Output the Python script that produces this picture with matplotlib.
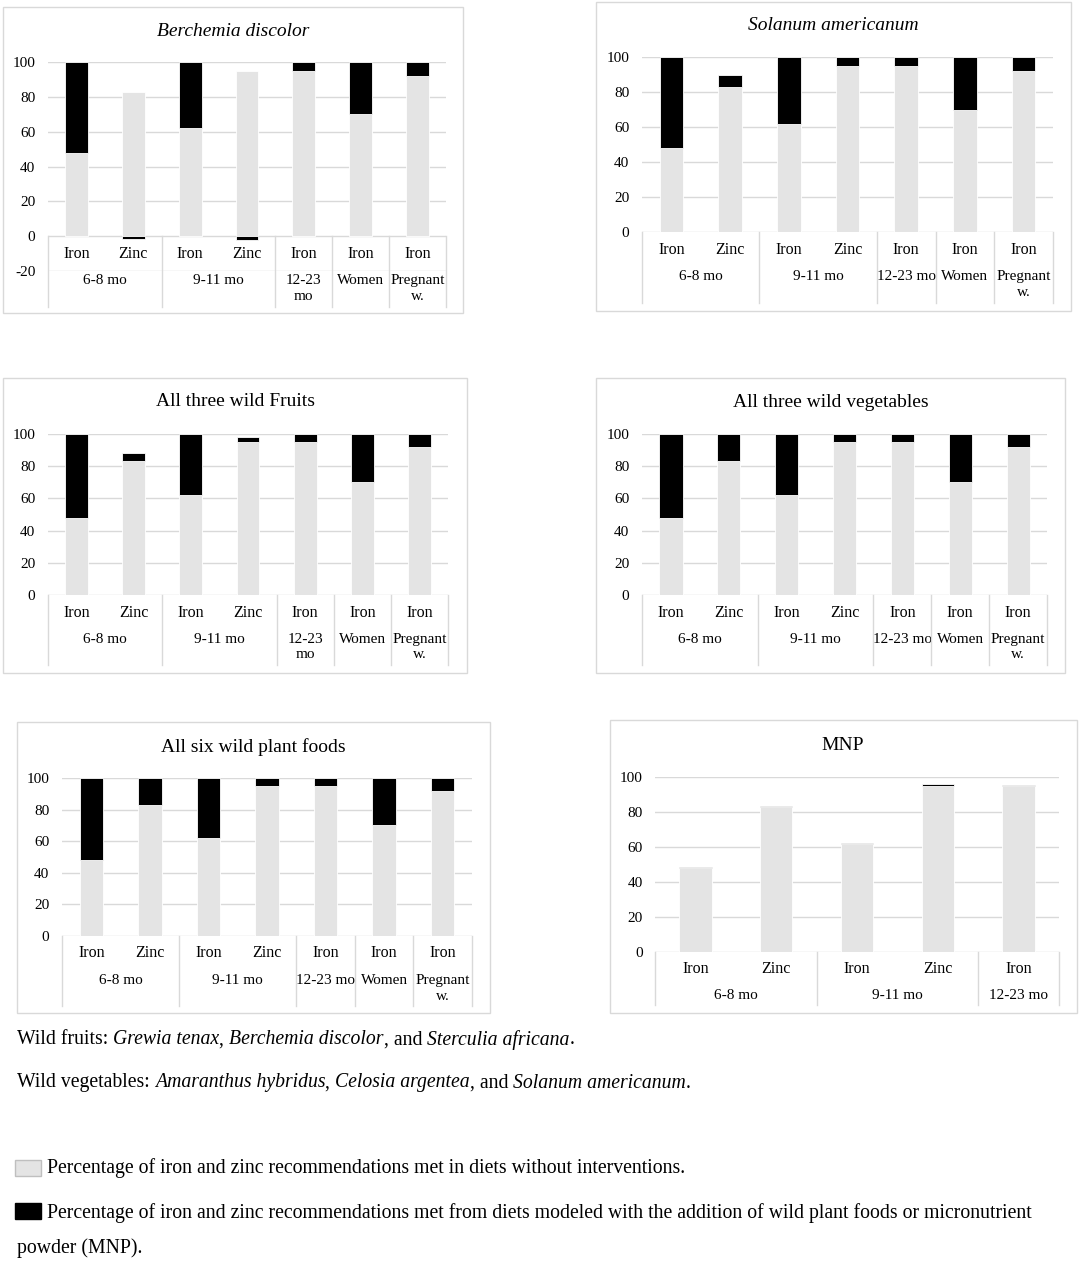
import matplotlib
matplotlib.use("Agg")
import matplotlib.pyplot as plt
from matplotlib.patches import Rectangle
from matplotlib.lines import Line2D
from matplotlib.transforms import blended_transform_factory
import numpy as np

plt.rcParams["font.family"] = ["Liberation Serif", "DejaVu Serif"]
plt.rcParams["axes.unicode_minus"] = False

# ---------------------------------------------------------------------------
# DATA (percent of recommendation met)
# ---------------------------------------------------------------------------
nutrients = ["Iron", "Zinc", "Iron", "Zinc", "Iron", "Iron", "Iron"]
age_groups = ["6-8 mo", "9-11 mo", "12-23 mo", "Women", "Pregnant w."]
group_sizes = [2, 2, 1, 1, 1]

baseline = [48, 83, 62, 95, 95, 70, 92]
berchemia_added = [52, -1.5, 38, -2, 5, 30, 8]
solanum_added = [52, 7, 38, 5, 5, 30, 8]
fruits_added = [52, 5.5, 38, 3, 5, 30, 8]
vegetables_added = [52, 17, 38, 5, 5, 30, 8]
six_added = [52, 17, 38, 5, 5, 30, 8]

mnp_nutrients = ["Iron", "Zinc", "Iron", "Zinc", "Iron"]
mnp_groups = ["6-8 mo", "9-11 mo", "12-23 mo"]
mnp_sizes = [2, 2, 1]
mnp_baseline = [48, 83, 62, 95, 95]
mnp_added = [0.4, 0.7, 0.4, 1.2, 0.4]

GREY = "#e4e4e4"
LINE = "#d9d9d9"

W, H = 1084, 1265
fig = plt.figure(figsize=(W / 100, H / 100), dpi=100)


def fx(x):
    return x / W


def fy(y):
    return 1 - y / H


# layout in pixels: box, plot area (left, right, y of top, y of bottom), label rows
panels = [
    dict(title="Berchemia discolor", italic=True, added=berchemia_added,
         box=(3, 7, 463, 313), plot=(48, 446, 62, 271), ymin=-20,
         row1=254, row2=281, bottom=307, tpos=(233, 32), wrap=("12-23 mo", "Pregnant w.")),
    dict(title="Solanum americanum", italic=True, added=solanum_added,
         box=(596, 2, 1071, 311), plot=(642, 1053, 57, 232), ymin=0,
         row1=250, row2=277, bottom=303, tpos=(833, 26), wrap=("Pregnant w.",)),
    dict(title="All three wild Fruits", italic=False, added=fruits_added,
         box=(3, 378, 467, 673), plot=(48, 448, 434, 595), ymin=0,
         row1=613, row2=640, bottom=665, tpos=(235, 402), wrap=("12-23 mo", "Pregnant w.")),
    dict(title="All three wild vegetables", italic=False, added=vegetables_added,
         box=(596, 378, 1065, 673), plot=(642, 1047, 434, 595), ymin=0,
         row1=613, row2=640, bottom=665, tpos=(831, 403), wrap=("Pregnant w.",)),
    dict(title="All six wild plant foods", italic=False, added=six_added,
         box=(17, 722, 490, 1013), plot=(62, 472, 778, 936), ymin=0,
         row1=953, row2=981, bottom=1006, tpos=(253, 747), wrap=("Pregnant w.",)),
]

mnp_panel = dict(title="MNP", italic=False, added=mnp_added, base=mnp_baseline,
                 subs=mnp_nutrients, groups=mnp_groups, sizes=mnp_sizes,
                 box=(610, 720, 1077, 1013), plot=(655, 1059, 777, 952), ymin=0,
                 row1=969, row2=996, bottom=1005, tpos=(843, 746), wrap=())


def draw_panel(p):
    base = np.array(p.get("base", baseline), dtype=float)
    added = np.array(p["added"], dtype=float)
    subs = p.get("subs", nutrients)
    groups = p.get("groups", age_groups)
    sizes = p.get("sizes", group_sizes)

    x0, y0, x1, y1 = p["box"]
    fig.patches.append(Rectangle((fx(x0), fy(y1)), fx(x1 - x0), (y1 - y0) / H,
                                 transform=fig.transFigure, fill=False, ec=LINE, lw=1))

    left, right, ytop, ybot = p["plot"]
    ax = fig.add_axes([fx(left), fy(ybot), fx(right - left), (ybot - ytop) / H])
    n = len(subs)
    x = np.arange(n)
    ax.bar(x, base, 0.4, color=GREY, edgecolor="white", linewidth=0.6, zorder=2)
    bottoms = np.where(added >= 0, base, 0)
    ax.bar(x, added, 0.4, bottom=bottoms, color="black", edgecolor="white",
           linewidth=0.6, zorder=3)

    ax.set_xlim(-0.5, n - 0.5)
    ax.set_ylim(p["ymin"], 100)
    ax.set_yticks(np.arange(p["ymin"], 101, 20))
    ax.set_xticks([])
    ax.grid(axis="y", color=LINE, lw=1, zorder=0)
    ax.set_axisbelow(True)
    for s in ax.spines.values():
        s.set_visible(False)
    ax.tick_params(axis="y", length=0, pad=9, labelsize=11)

    # category table under the bars
    trans = blended_transform_factory(ax.transData, fig.transFigure)
    zero_px = ytop + 100 / (100 - p["ymin"]) * (ybot - ytop)
    edges = np.concatenate([[0], np.cumsum(sizes)]) - 0.5
    for e in edges:
        fig.add_artist(Line2D([e, e], [fy(zero_px), fy(p["bottom"])],
                              transform=trans, color=LINE, lw=1))
    for xi, s in zip(x, subs):
        ax.text(xi, fy(p["row1"]), s, transform=trans, ha="center", va="center",
                fontsize=11.5)
    for g, a, b in zip(groups, edges[:-1], edges[1:]):
        label = g.replace(" ", "\n") if g in p["wrap"] else g
        ax.text((a + b) / 2, fy(p["row2"] - 7), label, transform=trans,
                ha="center", va="top", fontsize=11, linespacing=1.25)

    tx, ty = p["tpos"]
    fig.text(fx(tx), fy(ty), p["title"], ha="center", va="center", fontsize=14,
             style="italic" if p["italic"] else "normal")


for p in panels:
    draw_panel(p)
draw_panel(mnp_panel)

# ---------------------------------------------------------------------------
# Notes and legend under the panels
# ---------------------------------------------------------------------------
renderer = fig.canvas.get_renderer()


def text_width(txt, style, size):
    t1 = fig.text(0, 0, txt + "|", fontsize=size, style=style)
    t2 = fig.text(0, 0, "|", fontsize=size, style=style)
    w = t1.get_window_extent(renderer).width - t2.get_window_extent(renderer).width
    t1.remove()
    t2.remove()
    return w


def draw_runs(x_px, y_px, runs, size=14.2):
    x = x_px
    for txt, style in runs:
        fig.text(fx(x), fy(y_px), txt, fontsize=size, style=style,
                 ha="left", va="center")
        x += text_width(txt, style, size)


N, I = "normal", "italic"
draw_runs(17, 1040, [("Wild fruits: ", N), ("Grewia tenax", I), (", ", N),
                     ("Berchemia discolor", I), (", and ", N),
                     ("Sterculia africana", I), (".", N)])
draw_runs(17, 1083, [("Wild vegetables: ", N), ("Amaranthus hybridus", I), (", ", N),
                     ("Celosia argentea", I), (", and ", N),
                     ("Solanum americanum", I), (".", N)])

fig.patches.append(Rectangle((fx(15), fy(1176)), fx(26), 16 / H, transform=fig.transFigure,
                             fc=GREY, ec="#bfbfbf", lw=1))
fig.patches.append(Rectangle((fx(15), fy(1219)), fx(26), 16 / H, transform=fig.transFigure,
                             fc="black", ec="black", lw=1))
draw_runs(47, 1168, [("Percentage of iron and zinc recommendations met in diets without interventions.", N)])
draw_runs(47, 1213, [("Percentage of iron and zinc recommendations met from diets modeled with "
                      "the addition of wild plant foods or micronutrient", N)])
draw_runs(17, 1248, [("powder (MNP).", N)])

fig.savefig("out.png", dpi=100)
